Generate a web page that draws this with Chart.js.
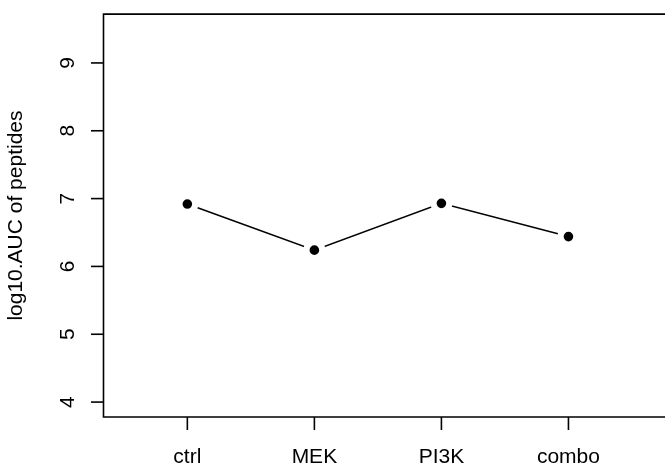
<!DOCTYPE html>
<html><head><meta charset="utf-8">
<script src="https://cdn.jsdelivr.net/npm/chart.js@4"></script>
<style>
html,body{margin:0;padding:0;overflow:hidden;background:#fff}
canvas{display:block}
</style>
</head><body><canvas id="c" width="665" height="468"></canvas>
<script>
const categories = ["ctrl", "MEK", "PI3K", "combo"];
const values = [6.92, 6.24, 6.93, 6.44];
const yTicks = [4, 5, 6, 7, 8, 9];
const yTitle = "log10.AUC of peptides";

const FONT = '21px "Liberation Sans", Arial, Helvetica, sans-serif';

const rAxes = {
  id: 'rAxes',
  afterDraw(chart) {
    const ctx = chart.ctx, a = chart.chartArea, x = chart.scales.x, y = chart.scales.y;
    ctx.save();
    ctx.strokeStyle = '#000';
    ctx.lineWidth = 1.6;
    // plot frame: its right side lies just beyond the visible window
    ctx.beginPath();
    ctx.moveTo(chart.width + 2, a.top);
    ctx.lineTo(a.left, a.top);
    ctx.lineTo(a.left, a.bottom);
    ctx.lineTo(chart.width + 2, a.bottom);
    ctx.stroke();
    ctx.fillStyle = '#000';
    ctx.font = FONT;
    // y axis ticks and labels
    yTicks.forEach(v => {
      const py = y.getPixelForValue(v);
      ctx.beginPath(); ctx.moveTo(a.left - 12.5, py); ctx.lineTo(a.left, py); ctx.stroke();
      ctx.save();
      ctx.translate(74, py);
      ctx.rotate(-Math.PI / 2);
      ctx.textAlign = 'center';
      ctx.textBaseline = 'alphabetic';
      ctx.fillText(String(v), 0, 0);
      ctx.restore();
    });
    // x axis ticks and labels
    categories.forEach((c, i) => {
      const px = x.getPixelForValue(i + 1);
      ctx.beginPath(); ctx.moveTo(px, a.bottom); ctx.lineTo(px, a.bottom + 13); ctx.stroke();
      ctx.textAlign = 'center';
      ctx.textBaseline = 'alphabetic';
      ctx.fillText(c, px, 463);
    });
    // y title
    ctx.save();
    ctx.translate(22, (a.top + a.bottom) / 2);
    ctx.rotate(-Math.PI / 2);
    ctx.textAlign = 'center';
    ctx.textBaseline = 'alphabetic';
    ctx.fillText(yTitle, 0, 0);
    ctx.restore();
    ctx.restore();
  }
};

new Chart(document.getElementById('c'), {
  type: 'scatter',
  data: {
    datasets: [{
      data: values.map((v, i) => ({ x: i + 1, y: v })),
      showLine: true,
      borderColor: '#000',
      borderWidth: 1.6,
      pointRadius: 7.9,
      pointBorderWidth: 6.2,
      pointBackgroundColor: '#000',
      pointBorderColor: '#fff',
      pointHoverRadius: 7.9,
      clip: false
    }]
  },
  options: {
    responsive: false,
    animation: false,
    events: [],
    layout: { padding: { left: 103.5, top: 11, right: 0, bottom: 51 } },
    plugins: { legend: { display: false }, tooltip: { enabled: false }, title: { display: false } },
    scales: {
      x: { type: 'linear', display: false, min: 0.34, max: 4.649 },
      y: { type: 'linear', display: false, min: 3.78, max: 9.72 }
    }
  },
  plugins: [rAxes]
});
</script>
</body></html>
